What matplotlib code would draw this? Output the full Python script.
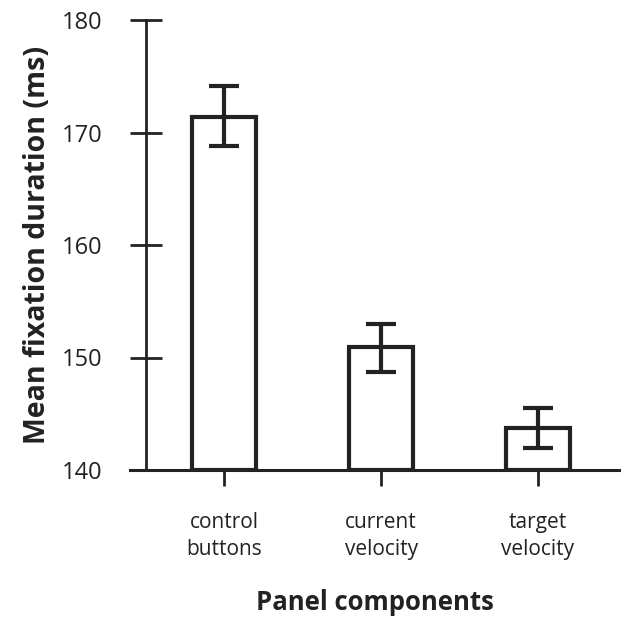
import matplotlib
matplotlib.use('Agg')
import matplotlib.pyplot as plt
import numpy as np

# mean fixation duration per panel component (ms)
categories = ['control\nbuttons', 'current\nvelocity', 'target\nvelocity']
means = [171.4, 150.9, 143.7]
err_low = [168.8, 148.7, 142.0]
err_high = [174.1, 153.0, 145.5]

plt.rcParams['font.family'] = ['Open Sans', 'DejaVu Sans']
ink = '#222222'

fig = plt.figure(figsize=(6.33, 6.18), dpi=100)
ax = fig.add_axes([130 / 633, (618 - 470) / 618, (619 - 130) / 633, 450 / 618])

x = np.arange(len(categories))
yerr = [np.array(means) - np.array(err_low), np.array(err_high) - np.array(means)]
ax.bar(x, np.array(means) - 140, bottom=140, width=0.41, facecolor='white',
       edgecolor=ink, linewidth=3, zorder=2)
ax.errorbar(x, means, yerr=yerr, fmt='none', ecolor=ink, elinewidth=3,
            capsize=11, capthick=3, zorder=3)

ax.set_xlim(-0.6, 2.516)
ax.set_ylim(140, 180)
ax.set_yticks([140, 150, 160, 170, 180])
ax.set_xticks(x)
ax.set_xticklabels(categories, fontsize=15, color=ink, linespacing=1.35)

for s in ['top', 'right']:
    ax.spines[s].set_visible(False)
ax.spines['left'].set_position(('data', -0.497))
ax.spines['left'].set_linewidth(2)
ax.spines['bottom'].set_linewidth(2.2)
ax.spines['left'].set_color(ink)
ax.spines['bottom'].set_color(ink)

ax.tick_params(axis='y', direction='inout', length=23, width=2, color=ink,
               labelsize=17, labelcolor=ink, pad=20)
ax.tick_params(axis='x', direction='inout', length=23, width=2, color=ink,
               pad=19)

ax.set_ylabel('Mean fixation duration (ms)', fontsize=20.5, fontweight='bold',
              color=ink, labelpad=7)
ax.set_xlabel('Panel components', fontsize=18.5, fontweight='bold', color=ink,
              labelpad=21)

fig.savefig('out.png', dpi=100)
